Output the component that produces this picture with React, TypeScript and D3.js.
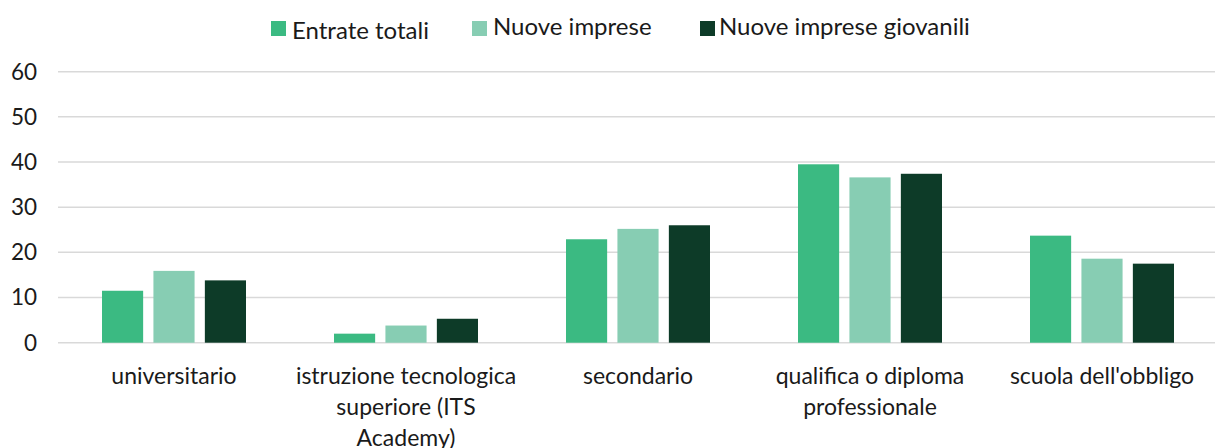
import React from "react";
import * as d3 from "d3";

const categories = [
  ["universitario"],
  ["istruzione tecnologica", "superiore (ITS", "Academy)"],
  ["secondario"],
  ["qualifica o diploma", "professionale"],
  ["scuola dell'obbligo"],
];
const seriesNames = ["Entrate totali", "Nuove imprese", "Nuove imprese giovanili"];
const entrateTotali = [11.5, 2.0, 22.9, 39.5, 23.7];
const nuoveImprese = [15.9, 3.8, 25.2, 36.6, 18.6];
const nuoveImpreseGiovanili = [13.8, 5.3, 26.0, 37.4, 17.5];
const yTicks = [0, 10, 20, 30, 40, 50, 60];
const colors = ["#3bba82", "#87cdb3", "#0d3b28"];

const W = 1215;
const H = 448;
const FONT = "Lato, 'Open Sans', sans-serif";

export default function App() {
  const series = [entrateTotali, nuoveImprese, nuoveImpreseGiovanili];
  const x0 = d3
    .scaleBand<number>()
    .domain(categories.map((_, i) => i))
    .range([58, 1218])
    .paddingInner(0)
    .paddingOuter(0);
  const x1 = d3
    .scaleBand<number>()
    .domain([0, 1, 2])
    .range([44, x0.bandwidth() - 44])
    .paddingInner(0.2)
    .paddingOuter(0);
  const y = d3.scaleLinear().domain([0, 60]).range([342.7, 71.7]);

  const legendItems = [
    { sq: 271, tx: 292, dy: 4 },
    { sq: 472, tx: 493, dy: 0 },
    { sq: 700, tx: 719, dy: 0 },
  ];

  return (
    <svg
      width={W}
      height={H}
      style={{ position: "absolute", left: 0, top: 0, background: "#fff" }}
      fontFamily={FONT}
    >
      {yTicks.map((t) => (
        <g key={t}>
          <line
            x1={58}
            x2={1215}
            y1={y(t)}
            y2={y(t)}
            stroke="#d9d9d9"
            strokeWidth={1.5}
          />
          <text
            x={37}
            y={y(t)}
            dy="0.35em"
            textAnchor="end"
            fontSize={22.5}
            fill="#1a1a1a"
          >
            {t}
          </text>
        </g>
      ))}
      {categories.map((_, ci) =>
        series.map((s, si) => (
          <rect
            key={`${ci}-${si}`}
            x={(x0(ci) ?? 0) + (x1(si) ?? 0)}
            y={y(s[ci])}
            width={x1.bandwidth()}
            height={y(0) - y(s[ci])}
            fill={colors[si]}
          />
        ))
      )}
      {categories.map((lines, ci) => (
        <text
          key={ci}
          x={(x0(ci) ?? 0) + x0.bandwidth() / 2}
          y={384}
          textAnchor="middle"
          fontSize={23}
          fill="#1a1a1a"
        >
          {lines.map((l, li) => (
            <tspan key={li} x={(x0(ci) ?? 0) + x0.bandwidth() / 2} dy={li === 0 ? 0 : 31}>
              {l}
            </tspan>
          ))}
        </text>
      ))}
      {seriesNames.map((n, i) => (
        <g key={n}>
          <rect x={legendItems[i].sq} y={21} width={15} height={15} fill={colors[i]} />
          <text
            x={legendItems[i].tx}
            y={35 + legendItems[i].dy}
            fontSize={24}
            fill="#1a1a1a"
          >
            {n}
          </text>
        </g>
      ))}
    </svg>
  );
}
